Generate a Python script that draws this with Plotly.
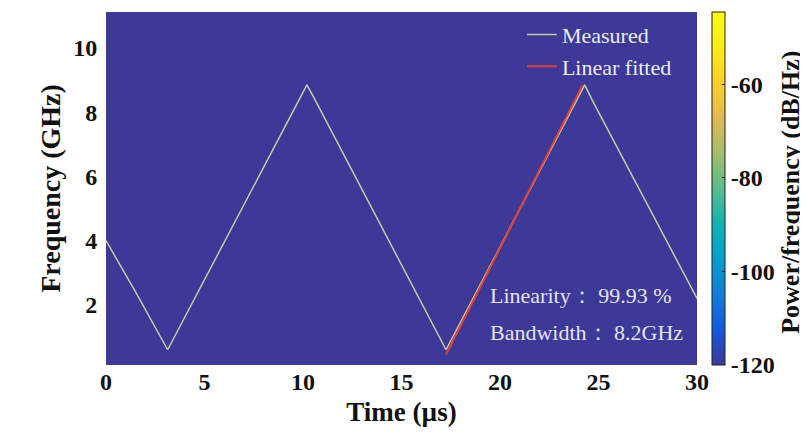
import plotly.graph_objects as go

# ---- data ----
meas_t = [0.0, 1.5, 3.13, 6.0, 9.0, 9.8, 10.2, 10.6, 14.0, 17.26, 20.0, 23.0, 23.8, 24.3, 24.7, 27.5, 30.0]
meas_f = [4.0, 2.4, 0.6, 3.95, 7.45, 8.35, 8.85, 8.4, 4.4, 0.6, 3.8, 7.3, 8.25, 8.85, 8.35, 5.1, 2.2]

fit_t = [17.26, 24.2]
fit_f = [0.45, 8.85]

x_ticks = [0, 5, 10, 15, 20, 25, 30]
y_ticks = [2, 4, 6, 8, 10]
cbar_ticks = [-120, -100, -80, -60]
cbar_labels = ["-120", "-100", "-80", "-60"]
power_min, power_max = -120, -44.5

linearity_text = "Linearity： 99.93 %"
bandwidth_text = "Bandwidth： 8.2GHz"

parula = [
    [0.0, "rgb(61,57,153)"], [0.1, "rgb(20,90,215)"], [0.2, "rgb(18,125,216)"],
    [0.3, "rgb(7,156,207)"], [0.4, "rgb(21,177,180)"], [0.5, "rgb(89,189,140)"],
    [0.6, "rgb(165,190,107)"], [0.7, "rgb(225,185,82)"], [0.8, "rgb(252,206,46)"],
    [0.9, "rgb(250,236,22)"], [1.0, "rgb(249,251,14)"],
]

SERIF = "Liberation Serif, Times New Roman, serif"

fig = go.Figure()

fig.add_trace(go.Scatter(
    x=meas_t, y=meas_f, mode="lines", name="Measured",
    line=dict(color="#c3cca6", width=1.5),
))
fig.add_trace(go.Scatter(
    x=fit_t, y=fit_f, mode="lines", name="Linear fitted",
    line=dict(color="#e8402c", width=2),
))
# colorbar carrier
fig.add_trace(go.Scatter(
    x=[None], y=[None], mode="markers", showlegend=False, hoverinfo="skip",
    marker=dict(
        color=[power_min], cmin=power_min, cmax=power_max, colorscale=parula,
        showscale=True,
        colorbar=dict(
            x=1.025, xanchor="left", y=0.5, yanchor="middle",
            len=1.0, lenmode="fraction", thickness=13,
            outlinecolor="#222", outlinewidth=1,
            tickvals=cbar_ticks, ticktext=["<b>%s</b>" % s for s in cbar_labels],
            ticks="inside", ticklen=3, tickcolor="#222",
            tickfont=dict(family=SERIF, size=24, color="#111"),
            xpad=0, ypad=0,
        ),
    ),
))

for txt, yp in [(linearity_text, 0.198), (bandwidth_text, 0.091)]:
    fig.add_annotation(
        text=txt, xref="paper", yref="paper", x=0.646, y=yp,
        xanchor="left", yanchor="middle", showarrow=False,
        font=dict(family=SERIF, size=22, color="#e4e4ee"),
    )
fig.add_annotation(
    text="<b>Power/frequency (dB/Hz)</b>", xref="paper", yref="paper",
    x=1.157, y=0.49, xanchor="center", yanchor="middle", textangle=-90,
    showarrow=False, font=dict(family=SERIF, size=26, color="#111"),
)

fig.update_layout(
    width=800, height=429,
    margin=dict(l=98, r=111, t=4, b=72, autoexpand=False),
    paper_bgcolor="white",
    plot_bgcolor="rgb(61,57,153)",
    showlegend=True,
    legend=dict(
        x=0.966, y=0.995, xanchor="right", yanchor="top",
        bgcolor="rgba(0,0,0,0)", borderwidth=0,
        font=dict(family=SERIF, size=22, color="#ececf2"),
        itemwidth=30, tracegroupgap=0,
    ),
    xaxis=dict(
        range=[0, 30], tickvals=x_ticks, showgrid=False, zeroline=False,
        automargin=False,
        ticks="", 
        tickfont=dict(family=SERIF, size=24, color="#111", weight="bold"),
        title=dict(text="<b>Time (µs)</b>", standoff=8,
                   font=dict(family=SERIF, size=27, color="#111")),
    ),
    yaxis=dict(
        range=[0.125, 11.12], tickvals=y_ticks, showgrid=False, zeroline=False,
        automargin=False,
        ticks="outside", ticklen=3, tickcolor="rgba(0,0,0,0)",
        tickfont=dict(family=SERIF, size=24, color="#111", weight="bold"),
        title=dict(text="<b>Frequency (GHz)</b>", standoff=4,
                   font=dict(family=SERIF, size=28, color="#111")),
    ),
)

fig.write_html("out.html")
